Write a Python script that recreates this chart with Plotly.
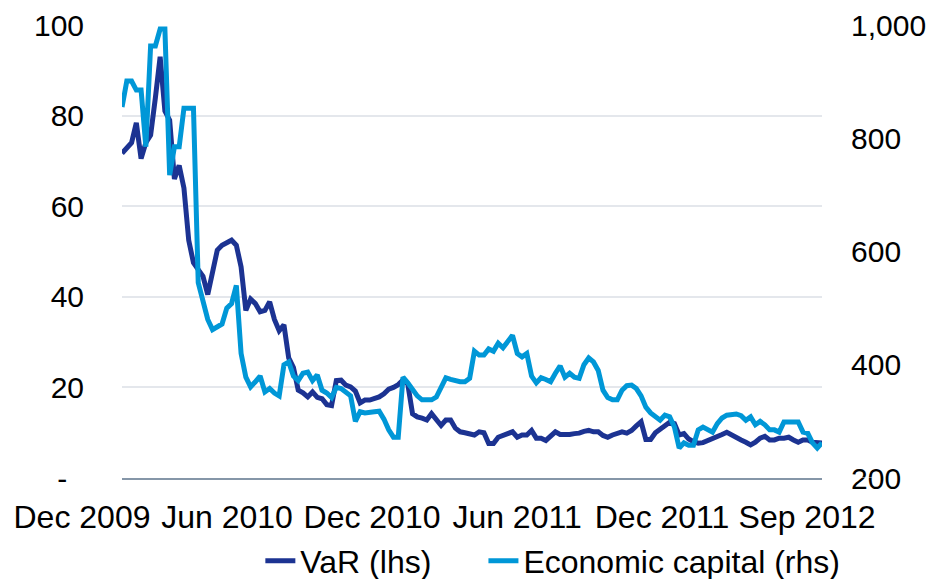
import pandas as pd
import plotly.graph_objects as go

dates = pd.date_range("2009-12-04", periods=148, freq="W-FRI")

var_lhs = [
    71.7, 73, 74, 78.4, 70.5, 74, 75.7, 83.9, 93, 81,
    79, 66, 69, 64, 52.5, 47.5, 46, 44.5, 40.5, 45,
    50.3, 51.4, 51.9, 52.5, 51.4, 46.6, 37, 39.5, 38.5, 36.7,
    37, 38.9, 35, 32.5, 33.8, 26.5, 24.4, 19.4, 18.8, 17.9,
    19, 17.8, 17.5, 16.2, 16, 21.5, 21.6, 20.5, 20.1, 19.2,
    16.6, 17.2, 17.2, 17.6, 17.9, 18.6, 19.6, 20, 20.6, 21.6,
    20.8, 14.2, 13.5, 13.2, 12.8, 14.2, 13, 11.6, 12.8, 12.8,
    11, 10.2, 10, 9.7, 9.5, 10.2, 10, 7.6, 7.6, 9,
    9.5, 9.9, 10.2, 9, 9.5, 9.5, 10.5, 8.8, 8.8, 8.3,
    9.3, 10.2, 9.6, 9.5, 9.6, 9.8, 9.9, 10.3, 10.5, 10.2,
    10.2, 9.4, 9, 9.5, 9.9, 10.2, 9.9, 10.5, 11.5, 12.4,
    8.5, 8.5, 10, 10.8, 11.3, 12.3, 12, 9.5, 9.8, 8.6,
    8, 7.7, 7.8, 8.2, 8.6, 9, 9.6, 10.1, 9.5, 8.7,
    8.4, 7.9, 7.3, 7.9, 8.8, 9.2, 8.4, 8.4, 8.8, 8.8,
    9, 8.4, 7.9, 8.4, 8.4, 7.9, 7.7, 7.7,
]

econ_capital_rhs = [
    855, 901, 901, 885, 885, 785, 963, 963, 993, 993,
    735, 785, 785, 853, 853, 853, 545, 508, 480, 462,
    467, 472, 500, 508, 540, 420, 378, 361, 370, 380,
    352, 358, 350, 345, 400, 405, 380, 372, 385, 387,
    372, 382, 355, 350, 342, 360, 358, 350, 345, 300,
    317, 315, 315, 317, 318, 304, 285, 272, 272, 378,
    368, 355, 345, 338, 338, 338, 343, 362, 377, 374,
    371, 370, 370, 376, 424, 417, 417, 428, 424, 438,
    430, 440, 452, 420, 414, 420, 380, 368, 377, 374,
    370, 385, 398, 378, 385, 378, 376, 400, 412, 405,
    390, 355, 342, 338, 338, 355, 363, 364, 358, 345,
    325, 315, 308, 302, 311, 308, 290, 253, 262, 258,
    258, 285, 290, 285, 281, 296, 306, 311, 311, 313,
    310, 302, 308, 294, 300, 294, 285, 285, 281, 299,
    299, 299, 299, 281, 279, 262, 253, 262,
]

tick_labels = ["Dec 2009", "Jun 2010", "Dec 2010", "Jun 2011", "Dec 2011", "Sep 2012"]
left_ticks = [0, 20, 40, 60, 80, 100]
left_text = ["-\u00a0\u00a0", "20", "40", "60", "80", "100"]
right_ticks = [200, 400, 600, 800, 1000]
right_text = ["200", "400", "600", "800", "1,000"]

DARK = "#1c3392"
LIGHT = "#0097d7"
FONT = "Liberation Sans, Arial, sans-serif"

fig = go.Figure()
fig.add_trace(go.Scatter(x=dates, y=var_lhs, name="VaR (lhs)", mode="lines",
                         line=dict(color=DARK, width=5), xaxis="x", yaxis="y",
                         legend="legend"))
fig.add_trace(go.Scatter(x=dates, y=econ_capital_rhs, name="Economic capital (rhs)", mode="lines",
                         line=dict(color=LIGHT, width=5), xaxis="x", yaxis="y2",
                         legend="legend2"))
# carrier for the label axis
fig.add_trace(go.Scatter(x=[None], y=[None], xaxis="x2", yaxis="y3", showlegend=False,
                         hoverinfo="skip"))

legend_common = dict(orientation="h", xanchor="left", y=-0.183, yanchor="middle",
                     font=dict(size=32), itemwidth=30, bgcolor="rgba(0,0,0,0)")

fig.update_layout(
    width=940, height=571,
    margin=dict(l=7, r=76, t=17, b=101, autoexpand=False),
    paper_bgcolor="white", plot_bgcolor="white",
    font=dict(family=FONT, size=30, color="black"),
    showlegend=True,
    legend=dict(x=0.2863, **legend_common),
    legend2=dict(x=0.5466, **legend_common),
    xaxis=dict(domain=[0.1249, 0.9417], range=[dates[0], dates[-1]], showticklabels=False,
               showgrid=False, zeroline=False, showline=True, linecolor="#8596a8",
               linewidth=2, ticks="", anchor="y", automargin=False),
    yaxis=dict(range=[0, 100], tickvals=left_ticks, ticktext=left_text, showgrid=True,
               gridcolor="#e4e7ec", gridwidth=2, zeroline=False, showline=False,
               ticks="", ticklabelstandoff=37, anchor="x", automargin=False,
               tickfont=dict(size=30)),
    yaxis2=dict(range=[200, 1000], tickvals=right_ticks, ticktext=right_text, overlaying="y",
                side="right", showgrid=False, zeroline=False, showline=False, ticks="",
                ticklabelstandoff=28, anchor="x", automargin=False, tickfont=dict(size=30)),
    xaxis2=dict(domain=[0, 1], range=[-0.462, 5.448], tickvals=list(range(6)),
                ticktext=tick_labels, showgrid=False, zeroline=False, showline=False,
                ticks="", anchor="y3", ticklabelstandoff=17, automargin=False,
                tickfont=dict(size=32)),
    yaxis3=dict(domain=[0, 0.001], visible=False, range=[0, 1], anchor="x2"),
)

fig.write_html("out.html")
